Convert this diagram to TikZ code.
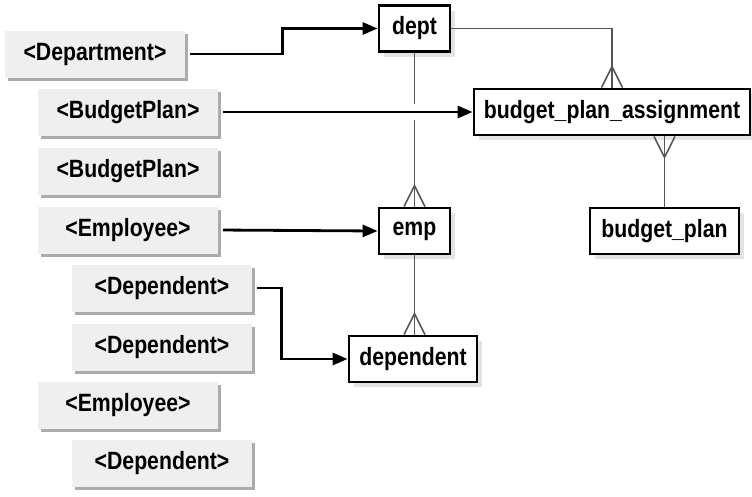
\documentclass[tikz,border=0pt]{standalone}
\usepackage{fontspec}
\setmainfont{Liberation Sans}[FakeStretch=0.85]
\usepackage{tikz}
\usetikzlibrary{arrows.meta,shadows,calc}
\definecolor{keyfill}{HTML}{EFEFEF}
\definecolor{keyshade}{HTML}{ABABAB}
\definecolor{relgray}{HTML}{555555}

\begin{document}
\begin{tikzpicture}[x=1pt,y=-1pt,
  lbl/.style={font=\fontsize{25}{28}\selectfont\bfseries},
  xmlbox/.style={lbl,fill=keyfill,minimum width=180pt,minimum height=47pt,inner sep=0pt,
    drop shadow={shadow xshift=3pt,shadow yshift=-3pt,fill=keyshade,opacity=1}},
  entity/.style={lbl,draw,line width=2.8pt,fill=white,minimum height=46pt,inner sep=0pt,
    drop shadow={shadow xshift=5pt,shadow yshift=-5pt,opacity=0.22}},
  maparrow/.style={line width=2.8pt,-{Triangle[length=15pt,width=12pt]}},
  relline/.style={relgray,line width=1.5pt},
  crowtop/.pic={\draw[relline] (0,-21) -- (-10.5,0) (0,-21) -- (10.5,0);},
  crowbot/.pic={\draw[relline] (0,21) -- (-10.5,0) (0,21) -- (10.5,0);}]
  \useasboundingbox (0,0) rectangle (752,496);
  % xml side
  \node[xmlbox] (xDept) at (95,54) {<Department>};
  \node[xmlbox] (xPlanA) at (128,112) {<BudgetPlan>};
  \node[xmlbox] (xPlanB) at (128,171) {<BudgetPlan>};
  \node[xmlbox] (xEmpA) at (128,230) {<Employee>};
  \node[xmlbox] (xDepA) at (162,288) {<Dependent>};
  \node[xmlbox] (xDepB) at (162,347) {<Dependent>};
  \node[xmlbox] (xEmpB) at (128,405) {<Employee>};
  \node[xmlbox] (xDepC) at (162,463) {<Dependent>};
  % tables
  \node[entity,minimum width=71pt] (dept) at (414.5,28.5) {dept};
  \node[entity,minimum width=276pt] (bpa) at (612,112) {budget\_plan\_assignment};
  \node[entity,minimum width=71pt] (emp) at (414.5,231) {emp};
  \node[entity,minimum width=149pt] (bp) at (664.5,231) {budget\_plan};
  \node[entity,minimum width=128pt] (dependent) at (413,359) {dependent};
  % relations
  \draw[relline] (dept.south) -- ++(0,51);
  \draw[relline] (emp.north) -- ++(0,-87);
  \pic at (emp.north) {crowtop};
  \draw[relline] (dept.east) -| (bpa.north);
  \pic at (bpa.north) {crowtop};
  \draw[relline] (bp.north |- bpa.south) -- (bp.north);
  \pic at (bp.north |- bpa.south) {crowbot};
  \draw[relline] (emp.south) -- (emp.south |- dependent.north);
  \pic at (emp.south |- dependent.north) {crowtop};
  % mappings
  \draw[maparrow,shorten <=5pt] (xDept.east) -- ++(97,0) |- (dept.west);
  \draw[maparrow,shorten <=5pt] (xPlanA.east) -- (bpa.west);
  \draw[maparrow,shorten <=5pt] (xEmpA.east) -- (emp.west);
  \draw[maparrow,shorten <=5pt] (xDepA.east) -- ++(29,0) |- (dependent.west);
\end{tikzpicture}
\end{document}
